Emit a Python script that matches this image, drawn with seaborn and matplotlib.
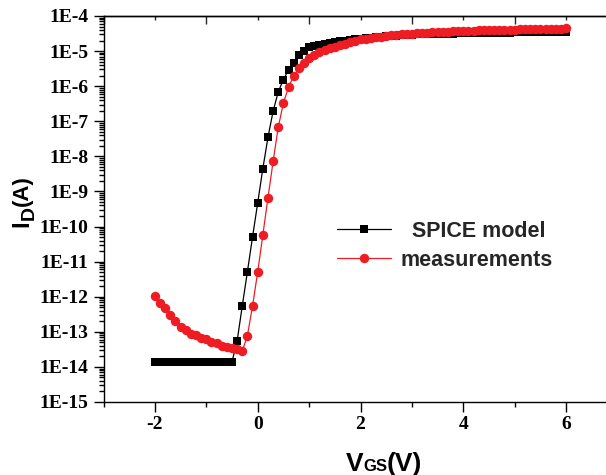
import numpy as np
import pandas as pd
import matplotlib
matplotlib.use("Agg")
import matplotlib.pyplot as plt
from matplotlib.ticker import FixedLocator, MultipleLocator, LogLocator, FuncFormatter, NullFormatter
import seaborn as sns

# Gate-voltage sweep (V)
vgs = [-2.0, -1.9, -1.8, -1.7, -1.6, -1.5, -1.4, -1.3, -1.2, -1.1,
       -1.0, -0.9, -0.8, -0.7, -0.6, -0.5, -0.4, -0.3, -0.2, -0.1,
       0.0, 0.1, 0.2, 0.3, 0.4, 0.5, 0.6, 0.7, 0.8, 0.9,
       1.0, 1.1, 1.2, 1.3, 1.4, 1.5, 1.6, 1.7, 1.8, 1.9,
       2.0, 2.1, 2.2, 2.3, 2.4, 2.5, 2.6, 2.7, 2.8, 2.9,
       3.0, 3.1, 3.2, 3.3, 3.4, 3.5, 3.6, 3.7, 3.8, 3.9,
       4.0, 4.1, 4.2, 4.3, 4.4, 4.5, 4.6, 4.7, 4.8, 4.9,
       5.0, 5.1, 5.2, 5.3, 5.4, 5.5, 5.6, 5.7, 5.8, 5.9, 6.0]

# Drain current from the SPICE model (A)
id_spice = [1.4e-14, 1.4e-14, 1.4e-14, 1.4e-14, 1.4e-14, 1.4e-14, 1.4e-14, 1.4e-14, 1.4e-14, 1.4e-14,
            1.4e-14, 1.4e-14, 1.4e-14, 1.4e-14, 1.4e-14, 1.4e-14, 5.5e-14, 5.5e-13, 5.2e-12, 5.1e-11,
            4.7e-10, 4.5e-9, 3.5e-8, 1.95e-7, 6.9e-7, 1.55e-6, 2.9e-6, 4.5e-6, 7.8e-6, 1.0e-5,
            1.32e-5, 1.41e-5, 1.51e-5, 1.62e-5, 1.74e-5, 1.82e-5, 1.91e-5, 2.0e-5, 2.09e-5, 2.19e-5,
            2.24e-5, 2.32e-5, 2.4e-5, 2.48e-5, 2.57e-5, 2.63e-5, 2.69e-5, 2.75e-5, 2.82e-5, 2.88e-5,
            2.95e-5, 2.98e-5, 3.01e-5, 3.03e-5, 3.06e-5, 3.09e-5, 3.12e-5, 3.14e-5, 3.17e-5, 3.2e-5,
            3.24e-5, 3.25e-5, 3.27e-5, 3.28e-5, 3.3e-5, 3.31e-5, 3.32e-5, 3.34e-5, 3.35e-5, 3.37e-5,
            3.39e-5, 3.39e-5, 3.4e-5, 3.4e-5, 3.4e-5, 3.41e-5, 3.41e-5, 3.41e-5, 3.42e-5, 3.42e-5, 3.42e-5]

# Measured drain current (A)
id_meas = [1.07e-12, 6.6e-13, 4.7e-13, 3.0e-13, 2.0e-13, 1.38e-13, 1.12e-13, 8.7e-14, 7.9e-14, 6.6e-14,
           6.2e-14, 5.0e-14, 4.7e-14, 4.0e-14, 3.8e-14, 3.5e-14, 3.2e-14, 2.8e-14, 7.8e-14, 5.5e-13,
           5.1e-12, 5.8e-11, 6.6e-10, 7.2e-9, 6.8e-8, 3.3e-7, 9.5e-7, 1.95e-6, 3.2e-6, 4.7e-6,
           6.3e-6, 7.8e-6, 9.3e-6, 1.07e-5, 1.2e-5, 1.35e-5, 1.48e-5, 1.62e-5, 1.78e-5, 1.95e-5,
           2.14e-5, 2.24e-5, 2.34e-5, 2.45e-5, 2.57e-5, 2.69e-5, 2.79e-5, 2.88e-5, 2.99e-5, 3.09e-5,
           3.16e-5, 3.23e-5, 3.3e-5, 3.37e-5, 3.44e-5, 3.5e-5, 3.55e-5, 3.6e-5, 3.65e-5, 3.7e-5,
           3.75e-5, 3.8e-5, 3.84e-5, 3.88e-5, 3.92e-5, 3.96e-5, 4.0e-5, 4.03e-5, 4.06e-5, 4.09e-5,
           4.12e-5, 4.15e-5, 4.18e-5, 4.21e-5, 4.24e-5, 4.27e-5, 4.3e-5, 4.33e-5, 4.36e-5, 4.39e-5, 4.42e-5]

series_labels = ["  SPICE model", "measurements"]
x_ticks = [-2, 0, 2, 4, 6]

W, H, DPI = 606, 475, 100

sns.set_theme(style="white")
plt.rcParams.update({
    "axes.unicode_minus": False,
    "axes.linewidth": 1.0,
    "axes.edgecolor": "black",
})

fig = plt.figure(figsize=(W / DPI, H / DPI), dpi=DPI)
# axes box in pixels: left spine at 103.5, bottom at 402, top at 16
ax = fig.add_axes([103.5 / W, 73 / H, 514 / W, 386 / H])

df_spice = pd.DataFrame({"vgs": vgs, "id": id_spice})
df_meas = pd.DataFrame({"vgs": vgs, "id": id_meas})

ax.set_yscale("log")
sns.lineplot(data=df_spice, x="vgs", y="id", ax=ax, color="black", lw=0.9,
             marker="s", markersize=6, markeredgewidth=0, estimator=None, sort=False,
             label=series_labels[0])
sns.lineplot(data=df_meas, x="vgs", y="id", ax=ax, color="#EE1D23", lw=0.9,
             marker="o", markersize=6.8, markeredgewidth=0, estimator=None, sort=False,
             label=series_labels[1])

ax.set_xlim(-3, 7)
ax.set_ylim(1e-15, 1e-4)
ax.set_xlabel("")
ax.set_ylabel("")

serif = "Liberation Serif"
ax.xaxis.set_major_locator(FixedLocator(x_ticks))
ax.xaxis.set_minor_locator(MultipleLocator(2, offset=1))
ax.yaxis.set_major_locator(LogLocator(base=10, numticks=20))
ax.yaxis.set_minor_locator(LogLocator(base=10, subs=np.arange(2, 10), numticks=20))
ax.yaxis.set_minor_formatter(NullFormatter())
ax.yaxis.set_major_formatter(FuncFormatter(lambda v, p: "1E%d" % int(round(np.log10(v)))))

ax.tick_params(axis="both", which="major", direction="out", length=7, width=1.0,
               color="black", labelcolor="black")
ax.tick_params(axis="both", which="minor", direction="out", length=3.5, width=1.0, color="black")
ax.tick_params(axis="x", which="both", bottom=True, top=False, pad=3)
ax.tick_params(axis="y", which="both", left=True, right=False, pad=4)
for lab in ax.get_xticklabels() + ax.get_yticklabels():
    lab.set_fontfamily(serif)
    lab.set_fontweight("bold")
    lab.set_fontsize(14)

ax.spines["right"].set_visible(False)
for s in ("left", "bottom", "top"):
    ax.spines[s].set_color("black")

# top axis: inward ticks, long at odd values, short at even
top = ax.secondary_xaxis("top")
top.xaxis.set_major_locator(MultipleLocator(2, offset=1))
top.xaxis.set_minor_locator(MultipleLocator(2))
top.tick_params(axis="x", which="major", direction="in", length=6, width=1.0, labeltop=False)
top.tick_params(axis="x", which="minor", direction="in", length=3, width=1.0)
top.spines["top"].set_linewidth(1.0)

leg = ax.legend(loc="upper left", bbox_to_anchor=(0.454, 0.47), frameon=False,
                prop={"family": "Liberation Sans", "weight": "bold", "size": 15.5},
                handlelength=2.5, handletextpad=0.45, labelspacing=0.38,
                borderpad=0, borderaxespad=0, markerscale=1.0)

# axis titles built from pieces so that subscripts keep their own size
fig.canvas.draw()
renderer = fig.canvas.get_renderer()
sans = "Liberation Sans"

x = 345.5
for txt, size, dy in (("V", 19, 0), ("GS", 12, 0), ("(V)", 19, 0)):
    t = fig.text(x / W, (4 + dy) / H, txt, fontsize=size, fontweight="bold",
                 family=sans, ha="left", va="baseline", color="black")
    x = t.get_window_extent(renderer).x1

y = 248
for txt, size, dx in (("I", 17, 0), ("D", 14, 6), ("(A)", 16, 0)):
    t = fig.text((28 + dx) / W, y / H, txt, fontsize=size, fontweight="bold",
                 family=sans, rotation=90, rotation_mode="anchor",
                 ha="left", va="baseline", color="black")
    y = t.get_window_extent(renderer).y1

fig.savefig("out.png", dpi=DPI)
